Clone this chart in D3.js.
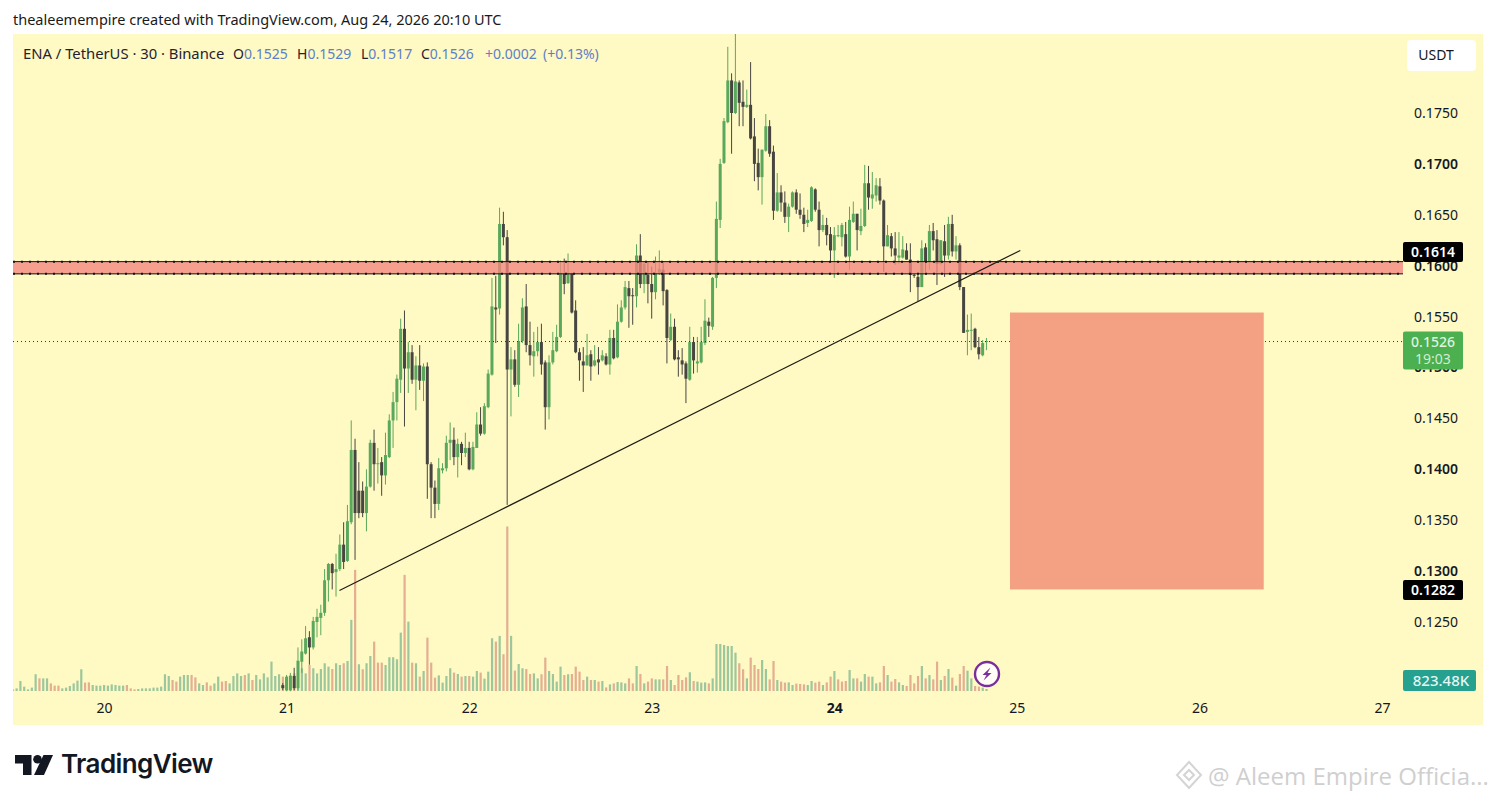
<!DOCTYPE html>
<html><head><meta charset="utf-8">
<style>html,body{margin:0;padding:0;background:#fff}svg{display:block}text{font-family:"Noto Sans",sans-serif}</style>
<script src="https://cdn.jsdelivr.net/npm/d3@7"></script></head><body>
<script>
const title="thealeemempire created with TradingView.com, Aug 24, 2026 20:10 UTC";
const symbolLabel="ENA / TetherUS · 30 · Binance";
const dayLabels=[20,21,22,23,24,25,26,27];
const priceTicks=[.125,.13,.135,.14,.145,.15,.155,.16,.165,.17,.175];
const boldPriceTicks=[.13,.14,.15,.16,.17];
// 30-minute bars; bar 0 = Aug 21 00:00 UTC
const firstCandleBar=-1, firstVolumeBar=-72;
const opens=[.1188,.1183,.1183,.1197,.1185,.1211,.1219,.1235,.1225,.1250,
.1254,.1259,.1291,.1307,.1299,.1302,.1326,.1310,.1348,.1419,
.1379,.1379,.1357,.1383,.1426,.1405,.1407,.1394,.1412,.1448,
.1466,.1488,.1538,.1499,.1515,.1488,.1502,.1487,.1501,.1405,
.1382,.1366,.1399,.1401,.1426,.1429,.1412,.1425,.1416,.1421,
.1400,.1421,.1444,.1435,.1461,.1493,.1559,.1558,.1641,.1628,
.1498,.1508,.1483,.1526,.1560,.1522,.1511,.1516,.1525,.1505,
.1461,.1505,.1516,.1530,.1592,.1583,.1592,.1556,.1515,.1506,
.1502,.1513,.1502,.1508,.1507,.1511,.1503,.1529,.1510,.1545,
.1559,.1578,.1571,.1570,.1610,.1582,.1591,.1582,.1574,.1593,
.1596,.1576,.1527,.1540,.1510,.1507,.1504,.1488,.1525,.1504,
.1505,.1524,.1545,.1540,.1588,.1645,.1701,.1741,.1782,.1750,
.1780,.1761,.1756,.1758,.1727,.1701,.1687,.1713,.1737,.1712,
.1654,.1672,.1662,.1648,.1658,.1672,.1655,.1650,.1642,.1644,
.1675,.1655,.1635,.1640,.1631,.1615,.1629,.1628,.1631,.1609,
.1643,.1651,.1634,.1639,.1681,.1666,.1669,.1678,.1664,.1619,
.1629,.1617,.1608,.1608,.1615,.1606,.1591,.1589,.1579,.1618,
.1604,.1634,.1626,.1602,.1624,.1610,.1641,.1614,.1620,.1579,
.1535,.1536,.1538,.1520,.1512,.1525];
const closes=[.1185,.1196,.1197,.1185,.1212,.1221,.1234,.1225,.1251,.1255,
.1259,.1291,.1307,.1298,.1302,.1326,.1309,.1349,.1419,.1357,
.1357,.1357,.1383,.1426,.1405,.1406,.1394,.1414,.1448,.1466,
.1489,.1538,.1499,.1515,.1488,.1502,.1487,.1501,.1405,.1382,
.1366,.1401,.1401,.1426,.1429,.1412,.1425,.1416,.1421,.1400,
.1422,.1444,.1435,.1462,.1494,.1560,.1557,.1641,.1628,.1498,
.1508,.1483,.1526,.1559,.1522,.1512,.1516,.1525,.1503,.1461,
.1505,.1517,.1530,.1593,.1582,.1593,.1554,.1515,.1507,.1502,
.1512,.1501,.1507,.1505,.1512,.1503,.1529,.1509,.1545,.1559,
.1579,.1570,.1570,.1610,.1582,.1602,.1582,.1574,.1593,.1597,
.1575,.1529,.1540,.1508,.1508,.1503,.1489,.1525,.1507,.1506,
.1525,.1546,.1541,.1588,.1646,.1700,.1742,.1782,.1750,.1781,
.1760,.1756,.1758,.1725,.1700,.1687,.1714,.1737,.1710,.1654,
.1672,.1662,.1648,.1658,.1672,.1655,.1650,.1641,.1645,.1677,
.1655,.1635,.1640,.1630,.1615,.1630,.1630,.1640,.1609,.1645,
.1651,.1635,.1639,.1681,.1667,.1670,.1679,.1664,.1619,.1630,
.1617,.1610,.1610,.1616,.1606,.1591,.1590,.1579,.1617,.1604,
.1634,.1625,.1602,.1625,.1610,.1641,.1614,.1620,.1579,.1534,
.1537,.1537,.1520,.1513,.1524,.1526];
const highs=[.1190,.1198,.1200,.1205,.1225,.1233,.1246,.1241,.1255,.1263,
.1267,.1302,.1308,.1308,.1317,.1336,.1348,.1365,.1448,.1430,
.1407,.1388,.1400,.1429,.1439,.1421,.1412,.1436,.1454,.1476,
.1493,.1548,.1556,.1525,.1522,.1511,.1522,.1504,.1505,.1407,
.1389,.1411,.1406,.1433,.1446,.1441,.1430,.1427,.1436,.1427,
.1427,.1456,.1461,.1465,.1498,.1588,.1590,.1657,.1653,.1635,
.1520,.1517,.1543,.1568,.1582,.1545,.1535,.1540,.1543,.1507,
.1512,.1535,.1542,.1605,.1607,.1612,.1593,.1566,.1519,.1520,
.1533,.1517,.1522,.1520,.1517,.1514,.1537,.1537,.1562,.1566,
.1585,.1585,.1578,.1621,.1631,.1604,.1604,.1599,.1609,.1615,
.1604,.1577,.1553,.1548,.1517,.1519,.1506,.1540,.1530,.1530,
.1540,.1567,.1549,.1589,.1663,.1705,.1745,.1815,.1789,.1828,
.1782,.1782,.1773,.1800,.1745,.1715,.1714,.1749,.1743,.1718,
.1691,.1679,.1673,.1661,.1673,.1675,.1671,.1657,.1655,.1678,
.1676,.1663,.1650,.1647,.1638,.1638,.1640,.1642,.1643,.1658,
.1663,.1651,.1656,.1699,.1698,.1692,.1686,.1686,.1665,.1640,
.1632,.1633,.1633,.1629,.1622,.1622,.1592,.1591,.1625,.1622,
.1640,.1642,.1635,.1625,.1640,.1648,.1650,.1629,.1622,.1579,
.1552,.1553,.1539,.1530,.1527,.1529];
const lows=[.1183,.1182,.1182,.1183,.1183,.1200,.1218,.1208,.1223,.1235,
.1237,.1256,.1270,.1282,.1275,.1300,.1302,.1309,.1346,.1311,
.1352,.1353,.1339,.1382,.1379,.1386,.1374,.1385,.1411,.1421,
.1448,.1475,.1442,.1475,.1484,.1458,.1478,.1467,.1371,.1352,
.1352,.1360,.1396,.1398,.1409,.1404,.1392,.1404,.1412,.1399,
.1399,.1421,.1433,.1434,.1460,.1492,.1524,.1552,.1620,.1365,
.1452,.1481,.1471,.1524,.1515,.1502,.1491,.1511,.1493,.1439,
.1449,.1503,.1515,.1529,.1572,.1582,.1553,.1514,.1487,.1476,
.1502,.1487,.1501,.1493,.1506,.1502,.1493,.1508,.1509,.1544,
.1557,.1539,.1542,.1559,.1578,.1573,.1563,.1548,.1567,.1591,
.1561,.1504,.1526,.1507,.1491,.1493,.1465,.1487,.1494,.1495,
.1504,.1522,.1530,.1537,.1578,.1637,.1700,.1740,.1710,.1749,
.1737,.1737,.1755,.1724,.1683,.1674,.1660,.1712,.1707,.1645,
.1653,.1653,.1642,.1633,.1657,.1651,.1646,.1633,.1638,.1643,
.1653,.1619,.1633,.1620,.1604,.1588,.1628,.1619,.1608,.1596,
.1642,.1615,.1630,.1638,.1655,.1656,.1663,.1660,.1594,.1619,
.1609,.1601,.1602,.1607,.1606,.1574,.1588,.1565,.1579,.1594,
.1596,.1615,.1581,.1601,.1589,.1606,.1609,.1606,.1576,.1534,
.1512,.1517,.1519,.1508,.1511,.1517];
const volumes=[130,210,800,350,130,270,1340,1010,1010,1010,
610,430,430,210,270,400,610,830,1740,670,
690,480,430,430,480,430,530,480,430,430,
480,210,130,160,210,210,210,270,270,350,
1340,1200,880,750,1150,1280,1280,1280,1090,610,
480,690,430,610,1150,750,800,610,1200,1410,
1200,1280,1410,880,1280,930,1410,1090,2350,1200,
1340,1150,
1200,1280,1410,2350,1820,1410,2080,1820,1410,1760,
2220,1950,1760,2220,2080,2220,2400,5690,9690,2140,
1740,2220,2800,3950,2270,2270,2080,2700,2700,2540,
4670,9290,5550,2270,2220,1150,1600,4270,2270,1070,
1250,670,1200,1820,1470,1360,1150,1200,1200,1150,
1600,1470,990,1550,4220,3950,4410,2940,13160,4410,
1630,2160,1820,1760,1360,1410,1010,1340,2670,1600,
1360,750,1950,1280,1340,1360,1950,1550,880,1150,
880,880,750,800,290,530,610,720,690,610,
1010,610,2000,1360,610,750,1010,930,930,930,
2000,880,480,1280,880,1090,1500,800,750,670,
690,610,1010,3760,3760,3680,3600,3600,3070,2220,
1740,1010,2670,2080,1760,2480,1760,930,2400,880,
750,670,690,480,590,560,530,480,800,670,
750,480,690,1150,1600,930,750,800,1680,1010,
1010,750,1360,1150,1150,610,690,2000,1280,750,
960,690,480,400,1280,610,1200,2000,1010,1280,
930,2350,880,1200,1760,1070,430,1360,2000,1630,
1010,400,350,270,160];
const fallingVolumeBars=[-65,-62,-61,-60,-53,-52,-42,-41,-40,-30,-29,-25,-24,-21,-20,-17,-16,-11,-9,-1,
2,6,12,15,18,20,23,24,25,31,33,35,37,38,39,44,46,48,51,55,57,58,60,63,64,67,68,73,75,76,77,78,80,82,84,86,90,91,93,95,96,99,100,102,103,104,105,107,111,119,120,122,123,124,127,128,130,131,134,135,136,139,140,142,143,145,146,147,150,153,156,157,159,160,163,164,165,166,168,170,171,173,175,177,178,181,182];
const trendBars=[13.9,192.9], trendPrices=[.1281,.1615];
const bandPrices=[.1604,.1592];
const boxBars=[190.2,256.9], boxPrices=[.1554,.1282];
const lastPrice=.1526, drawingLevel=.1614, targetLevel=.1282, lastVolumeLabel="823.48K";
const legendPairs=[["O","0.1525",233],["H","0.1529",297],["L","0.1517",361],["C","0.1526",421]];

const W=1495,H=801, paneL=13,paneR=1483,paneT=34,paneB=725, axisX=1403, paneFill="#fff9c4";
const barMs=30*60*1000, bar0=Date.UTC(2026,7,21);
const timeOf=i=>new Date(bar0+i*barMs);
const x=d3.scaleUtc().domain([new Date(Date.UTC(2026,7,20)),new Date(Date.UTC(2026,7,27))]).range([104,1382]);
const y=d3.scaleLinear().domain([.125,.175]).range([622,113]);
const v=d3.scaleLinear().domain([0,13160]).range([691,526.5]);
const bx=i=>x(timeOf(i));

const svg=d3.select("body").append("svg").attr("width",W).attr("height",H).attr("viewBox",[0,0,W,H]);
svg.append("rect").attr("width",W).attr("height",H).attr("fill","#fff");
svg.append("rect").attr("x",paneL).attr("y",paneT).attr("width",paneR-paneL).attr("height",paneB-paneT).attr("fill",paneFill);
svg.append("defs").append("clipPath").attr("id","pane").append("rect").attr("x",paneL).attr("y",paneT).attr("width",axisX-paneL).attr("height",paneB-paneT);
const plot=svg.append("g").attr("clip-path","url(#pane)");

// volume
const falling=new Set(fallingVolumeBars);
const volData=volumes.map((val,k)=>({i:firstVolumeBar+k,val}));
plot.append("g").selectAll("rect").data(volData).join("rect")
 .attr("x",d=>bx(d.i)-1).attr("width",2.2).attr("y",d=>v(d.val)).attr("height",d=>v(0)-v(d.val))
 .attr("fill",d=>falling.has(d.i)?"#e4ae91":"#9cc79c");

// candles
const candles=opens.map((o,k)=>({i:firstCandleBar+k,o,c:closes[k],h:highs[k],l:lows[k]}));
const upC="#5aa85c",dnC="#474541";
const cg=plot.append("g").selectAll("g").data(candles).join("g");
cg.append("line").attr("x1",d=>bx(d.i)).attr("x2",d=>bx(d.i)).attr("y1",d=>y(d.h)).attr("y2",d=>y(d.l))
 .attr("stroke",d=>d.c>=d.o?upC:dnC).attr("stroke-width",1);
cg.append("rect").attr("x",d=>bx(d.i)-1.5).attr("width",3)
 .attr("y",d=>y(Math.max(d.o,d.c))).attr("height",d=>Math.max(1,Math.abs(y(d.o)-y(d.c))))
 .attr("fill",d=>d.c>=d.o?upC:dnC);

// last price dotted
plot.append("line").attr("x1",paneL).attr("x2",axisX).attr("y1",y(lastPrice)+.5).attr("y2",y(lastPrice)+.5)
 .attr("stroke","#333").attr("stroke-width",1).attr("stroke-dasharray","1 3");

// resistance band
plot.append("rect").attr("x",paneL).attr("width",axisX-paneL).attr("y",y(bandPrices[0])).attr("height",y(bandPrices[1])-y(bandPrices[0]))
 .attr("fill","#f4857f").attr("opacity",.78);
bandPrices.forEach(p=>{
 plot.append("line").attr("x1",paneL).attr("x2",axisX).attr("y1",y(p)).attr("y2",y(p)).attr("stroke","#111").attr("stroke-width",1);
 plot.append("line").attr("x1",paneL).attr("x2",axisX).attr("y1",y(p)).attr("y2",y(p)).attr("stroke","#111").attr("stroke-width",2).attr("stroke-dasharray","2 6");
});

// target box
plot.append("rect").attr("x",bx(boxBars[0])).attr("width",bx(boxBars[1])-bx(boxBars[0])).attr("y",y(boxPrices[0])).attr("height",y(boxPrices[1])-y(boxPrices[0])).attr("fill","#f4a083");

// trend line
plot.append("path").datum(trendBars.map((b,k)=>[bx(b),y(trendPrices[k])])).attr("d",d3.line()).attr("fill","none").attr("stroke","#1c1a12").attr("stroke-width",1.2);

// axes
const yAxis=d3.axisRight(y).tickValues(priceTicks).tickSize(0).tickPadding(0).tickFormat(d3.format(".4f"));
const ya=svg.append("g").attr("transform","translate(1436,0)").call(yAxis);
ya.select(".domain").remove();
ya.selectAll("text").attr("x",0).attr("text-anchor","middle").attr("font-size",14).attr("fill","#131722")
 .attr("font-weight",d=>boldPriceTicks.includes(d)?600:400).style("font-family",'"Noto Sans",sans-serif');
const days=dayLabels.map(d=>new Date(Date.UTC(2026,7,d)));
const xAxis=d3.axisBottom(x).tickValues(days).tickSize(0).tickPadding(0).tickFormat(d=>d.getUTCDate());
const xa=svg.append("g").attr("transform","translate(0,703)").call(xAxis);
xa.select(".domain").remove();
xa.selectAll("text").attr("font-size",14).attr("fill","#131722").attr("font-weight",d=>d.getUTCDate()===24?700:400).style("font-family",'"Noto Sans",sans-serif');

// header
svg.append("text").attr("x",13).attr("y",25).attr("font-size",14.5).attr("fill","#1a1a1a").text(title);
svg.append("text").attr("x",23).attr("y",59).attr("font-size",14.8).attr("fill","#1f2330").text(symbolLabel);
const blue="#5c80c8";
legendPairs.forEach(([k,val,px])=>{
 const t=svg.append("text").attr("x",px).attr("y",59).attr("font-size",14);
 t.append("tspan").attr("fill","#1f2330").text(k);
 t.append("tspan").attr("fill",blue).text(val);
});
svg.append("text").attr("x",485).attr("y",59).attr("font-size",14).attr("fill",blue).text("+0.0002");
svg.append("text").attr("x",543).attr("y",59).attr("font-size",14).attr("fill",blue).text("(+0.13%)");

// USDT button
svg.append("rect").attr("x",1407).attr("y",40).attr("width",69).attr("height",31).attr("rx",4).attr("fill","#fff");
svg.append("text").attr("x",1436).attr("y",60).attr("text-anchor","middle").attr("font-size",14).attr("fill","#131722").text("USDT");

// price labels
const tag=(yp,h,fill,w=60)=>svg.append("rect").attr("x",axisX).attr("y",yp).attr("width",w).attr("height",h).attr("rx",2).attr("fill",fill);
const tagText=(cx,yb,s,fill,wt=600,fs=14)=>svg.append("text").attr("x",cx).attr("y",yb).attr("text-anchor","middle").attr("font-size",fs).attr("font-weight",wt).attr("fill",fill).text(s);
tag(y(drawingLevel)-9.5,20,"#000");
tagText(1433,y(drawingLevel)+5.5,drawingLevel.toFixed(4),"#fff");
tag(y(targetLevel)-9.5,20,"#000");
tagText(1433,y(targetLevel)+5.5,targetLevel.toFixed(4),"#fff");
tag(y(lastPrice)-9.5,38,"#4caf50");
tagText(1433,y(lastPrice)+5.5,lastPrice.toFixed(4),"#dff3df",500);
tagText(1433,y(lastPrice)+23,"19:03","#d3ecd3",400);
tag(670,21,"#26a08f",73);
tagText(1441,686,lastVolumeLabel,"#e5f5f2",500,15);

// lightning icon
const ic=svg.append("g").attr("transform","translate(987,674)");
ic.append("circle").attr("r",13).attr("fill",paneFill);
ic.append("circle").attr("r",12).attr("fill","#fffdf5").attr("stroke","#7a2e9e").attr("stroke-width",2.4);
ic.append("path").attr("d","M3.5 -6.5 L-4.5 1 L-0.5 1 L-3.5 6.5 L4.5 -1 L0.5 -1 Z").attr("fill","#7a2e9e");

// TradingView logo
const logo=svg.append("g").attr("fill","#131722");
logo.append("path").attr("d","M15 755 H31.5 V775 H23 V763.5 H15 Z");
logo.append("circle").attr("cx",37.5).attr("cy",759.3).attr("r",4.3);
logo.append("path").attr("d","M43.5 755 H53 L44 775 H34 Z");
svg.append("text").attr("x",61).attr("y",773).attr("font-size",26).attr("font-weight",600).attr("fill","#131722").style("font-family","Inter,sans-serif").attr("letter-spacing",-.6).text("TradingView");

// watermark
const wm=svg.append("g").attr("fill","none").attr("stroke","#d4d4d4").attr("stroke-width",2);
wm.append("path").attr("d","M1189 762 L1201 775 L1189 788 L1177 775 Z");
wm.append("path").attr("d","M1189 770 L1194 775 L1189 780 L1184 775 Z");
svg.append("text").attr("x",1208).attr("y",785).attr("font-size",24).attr("fill","#cfcfcf").style("font-family",'"Open Sans",sans-serif').text("@ Aleem Empire Officia...");
</script></body></html>
